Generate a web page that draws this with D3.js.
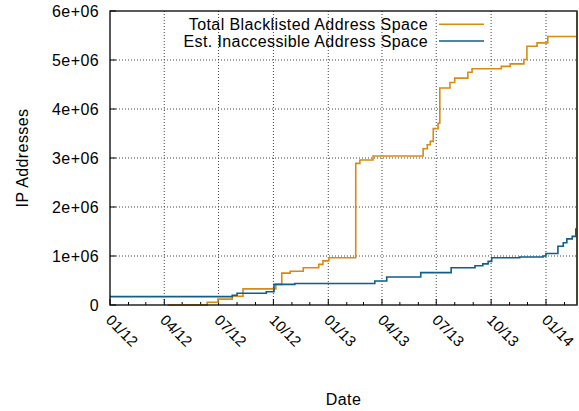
<!DOCTYPE html>
<html><head><meta charset="utf-8">
<script src="https://cdn.jsdelivr.net/npm/d3@7"></script>
<style>body{margin:0;background:#fff}svg{display:block}text{font-family:"Liberation Sans",Arial,sans-serif;fill:#000;letter-spacing:0.4px}text.xl{letter-spacing:0}</style>
</head><body>
<svg id="c" width="579" height="411"></svg>
<script>
// Data
const seriesNames = ["Total Blacklisted Address Space", "Est. Inaccessible Address Space"];
const blacklistedDates = ["2012-04-07","2012-06-12","2012-06-30","2012-07-24","2012-08-11","2012-10-05","2012-10-15","2012-10-29","2012-11-20","2012-12-16","2012-12-23","2013-01-02","2013-02-16","2013-02-23","2013-03-17","2013-06-09","2013-06-16","2013-06-21","2013-06-26","2013-07-04","2013-07-07","2013-07-24","2013-08-01","2013-08-23","2013-08-30","2013-10-18","2013-11-02","2013-11-25","2013-11-30","2013-12-17","2014-01-04","2014-02-22"];
const blacklistedValues = [0,55000,120000,180000,330000,420000,650000,690000,760000,830000,900000,965000,2890000,2960000,3040000,3190000,3270000,3340000,3600000,3710000,4430000,4540000,4630000,4750000,4820000,4870000,4920000,5010000,5280000,5350000,5480000,5480000];
const inaccessibleDates = ["2012-01-01","2012-07-24","2012-08-01","2012-09-19","2012-10-02","2012-11-06","2013-03-20","2013-04-09","2013-06-05","2013-07-26","2013-09-04","2013-09-17","2013-09-26","2013-10-02","2013-11-18","2013-12-27","2014-01-01","2014-01-21","2014-01-30","2014-02-05","2014-02-14","2014-02-20","2014-02-22"];
const inaccessibleValues = [170000,200000,240000,270000,420000,440000,490000,570000,660000,760000,800000,840000,890000,965000,980000,1000000,1050000,1200000,1270000,1350000,1400000,1550000,1550000];
const xTickLabels = ["01/12","04/12","07/12","10/12","01/13","04/13","07/13","10/13","01/14"];
const yTicks = [0,1e6,2e6,3e6,4e6,5e6,6e6];
const yTickLabels = ["0","1e+06","2e+06","3e+06","4e+06","5e+06","6e+06"];
const xDomain = ["2012-01-01","2014-02-22"];

const parse = d3.utcParse("%Y-%m-%d");
const colors = ["#d98a12", "#0f5e8c"];
const L = 110, R = 577, T = 11, B = 305;
const FS = 16;
const svg = d3.select("#c");
const x = d3.scaleUtc().domain(xDomain.map(parse)).range([L, R]);
const y = d3.scaleLinear().domain([0, 6e6]).range([B, T]);

const parseTick = s => { const [m, yy] = s.split("/"); return new Date(Date.UTC(2000 + +yy, +m - 1, 1)); };
const xTicks = xTickLabels.map(parseTick);
const minorTicks = d3.utcMonth.range(parse("2012-01-01"), parse("2014-02-22")).filter(d => d.getUTCMonth() % 3 !== 0);

// grid
const g = svg.append("g");
g.selectAll(".gx").data(xTicks.slice(1)).join("line")
  .attr("x1", d => x(d)).attr("x2", d => x(d)).attr("y1", T).attr("y2", B)
  .attr("stroke", "#444").attr("stroke-width", 1).attr("stroke-dasharray", "1,2");
g.selectAll(".gy").data(yTicks.slice(1, -1)).join("line")
  .attr("x1", L).attr("x2", R).attr("y1", d => y(d)).attr("y2", d => y(d))
  .attr("stroke", "#444").attr("stroke-width", 1).attr("stroke-dasharray", "1,2");

// ticks
g.selectAll(".tx").data(xTicks).join("line")
  .attr("x1", d => x(d)).attr("x2", d => x(d)).attr("y1", B).attr("y2", B - 6)
  .attr("stroke", "#000").attr("stroke-width", 1);
g.selectAll(".mx").data(minorTicks).join("line")
  .attr("x1", d => x(d)).attr("x2", d => x(d)).attr("y1", B).attr("y2", B - 3)
  .attr("stroke", "#000").attr("stroke-width", 1);
g.selectAll(".ty").data(yTicks).join("line")
  .attr("x1", L).attr("x2", L + 6).attr("y1", d => y(d)).attr("y2", d => y(d))
  .attr("stroke", "#000").attr("stroke-width", 1);

// lines
const line = d3.line().curve(d3.curveStepAfter).x(d => x(d[0])).y(d => y(d[1]));
const s1 = blacklistedDates.map((d, i) => [parse(d), blacklistedValues[i]]);
const s2 = inaccessibleDates.map((d, i) => [parse(d), inaccessibleValues[i]]);
svg.append("path").attr("d", line(s1)).attr("fill", "none").attr("stroke", colors[0]).attr("stroke-width", 1.6);
svg.append("path").attr("d", line(s2)).attr("fill", "none").attr("stroke", colors[1]).attr("stroke-width", 1.6);

// border
svg.append("rect").attr("x", L).attr("y", T).attr("width", R - L).attr("height", B - T)
  .attr("fill", "none").attr("stroke", "#000").attr("stroke-width", 1.3);
svg.append("line").attr("x1", R).attr("x2", R).attr("y1", T).attr("y2", B)
  .attr("stroke", "#4e3b1f").attr("stroke-width", 1.6);

// tick labels
svg.selectAll(".yl").data(yTicks).join("text")
  .attr("x", 99).attr("y", d => y(d)).attr("dy", "0.36em")
  .attr("text-anchor", "end").attr("font-size", FS).text((d, i) => yTickLabels[i]);
svg.selectAll(".xl").data(xTicks).join("text").attr("class", "xl")
  .attr("transform", (d) => `translate(${x(d) - 5},${321}) rotate(45)`)
  .attr("text-anchor", "start").attr("font-size", 15).text((d, i) => xTickLabels[i]);

// axis titles
svg.append("text").attr("transform", "translate(28,158) rotate(-90)")
  .attr("text-anchor", "middle").attr("font-size", FS).text("IP Addresses");
svg.append("text").attr("x", 343.5).attr("y", 405)
  .attr("text-anchor", "middle").attr("font-size", FS).text("Date");

// legend
const legY = [24.3, 41];
seriesNames.forEach((n, i) => {
  svg.append("text").attr("x", 428).attr("y", legY[i]).attr("dy", "0.35em")
    .attr("text-anchor", "end").attr("font-size", FS).text(n);
  svg.append("line").attr("x1", 439).attr("x2", 484).attr("y1", legY[i]).attr("y2", legY[i])
    .attr("stroke", colors[i]).attr("stroke-width", 1.6);
});
</script>
</body></html>
